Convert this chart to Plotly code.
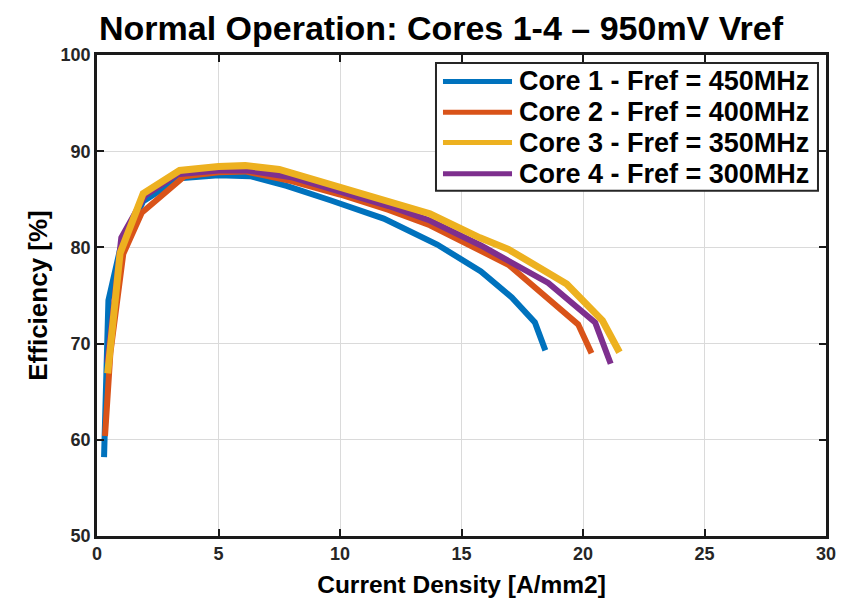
import plotly.graph_objects as go

# Measured efficiency vs current density for each core (950 mV Vref)
core1_j = [0.29, 0.47, 0.95, 1.9, 3.4, 5.0, 6.3, 7.8, 9.6, 11.8, 14.0, 15.8, 17.07, 18.02, 18.45]
core1_eff = [58.2, 74.5, 79.8, 84.8, 87.2, 87.5, 87.4, 86.4, 84.9, 83.0, 80.3, 77.5, 74.8, 72.2, 69.3]

core2_j = [0.33, 0.55, 1.08, 1.84, 3.6, 5.0, 6.1, 8.0, 10.0, 12.0, 13.7, 15.8, 16.93, 19.8, 20.35]
core2_eff = [60.4, 69.0, 79.3, 83.6, 87.4, 87.8, 87.9, 86.9, 85.5, 83.9, 82.3, 79.6, 78.2, 72.0, 69.0]

core3_j = [0.44, 0.95, 1.9, 3.4, 5.0, 6.1, 7.5, 10.0, 12.0, 13.7, 15.76, 16.93, 19.33, 20.8, 21.5]
core3_eff = [66.9, 79.4, 85.6, 88.0, 88.4, 88.5, 88.1, 86.3, 84.8, 83.5, 81.0, 79.8, 76.2, 72.4, 69.1]

core4_j = [0.43, 1.0, 1.98, 3.3, 5.0, 6.2, 8.0, 10.0, 12.0, 13.7, 15.8, 18.57, 20.5, 21.14]
core4_eff = [68.0, 81.0, 85.4, 87.6, 88.0, 88.0, 87.3, 85.8, 84.3, 82.8, 80.2, 76.3, 72.2, 67.9]

series_names = [
    "Core 1 - Fref = 450MHz",
    "Core 2 - Fref = 400MHz",
    "Core 3 - Fref = 350MHz",
    "Core 4 - Fref = 300MHz",
]
series_colors = ["#0072BD", "#D95319", "#EDB120", "#7E2F8E"]

x_ticks = [0, 5, 10, 15, 20, 25, 30]
y_ticks = [50, 60, 70, 80, 90, 100]

FONT = "Liberation Sans, Arial, sans-serif"
TICK_COLOR = "#262626"

data = [
    (core1_j, core1_eff),
    (core2_j, core2_eff),
    (core3_j, core3_eff),
    (core4_j, core4_eff),
]

fig = go.Figure()
# draw order: purple beneath yellow
draw_order = [0, 1, 3, 2]
for i in draw_order:
    xs, ys = data[i]
    fig.add_trace(go.Scatter(
        x=xs, y=ys, mode="lines", name=series_names[i],
        line=dict(color=series_colors[i], width=6 if i != 2 else 7),
        showlegend=False,
    ))

axis_common = dict(
    showgrid=True, gridcolor="#dadada", gridwidth=1,
    showline=True, linecolor="#1a1a1a", linewidth=2.5, mirror="ticks",
    ticks="inside", ticklen=7, tickwidth=2, tickcolor="#1a1a1a",
    zeroline=False,
    tickfont=dict(family=FONT, size=18, color=TICK_COLOR, weight="bold"),
)

fig.update_xaxes(
    range=[0, 30], tickvals=x_ticks, ticktext=[str(v) for v in x_ticks],
    title=dict(text="<b>Current Density [A/mm2]</b>", standoff=13,
               font=dict(family=FONT, size=24.5, color="#000000")),
    **axis_common,
)
fig.update_yaxes(
    range=[50, 100], tickvals=y_ticks, ticktext=[str(v) for v in y_ticks],
    title=dict(text="<b>Efficiency [%]</b>", standoff=6,
               font=dict(family=FONT, size=26, color="#000000")),
    **axis_common,
)

# Legend box with long line samples
box_x0, box_x1 = 0.465, 0.989
box_y0, box_y1 = 0.718, 0.9835
fig.add_shape(type="rect", xref="paper", yref="paper",
              x0=box_x0, x1=box_x1, y0=box_y0, y1=box_y1,
              line=dict(color="#262626", width=2), fillcolor="white", layer="above")
row_y = [0.945, 0.881, 0.818, 0.753]
for i in range(4):
    fig.add_shape(type="line", xref="paper", yref="paper",
                  x0=0.4746, x1=0.5693, y0=row_y[i], y1=row_y[i],
                  line=dict(color=series_colors[i], width=5), layer="above")
    fig.add_annotation(xref="paper", yref="paper", x=0.5755, y=row_y[i],
                       xanchor="left", yanchor="middle", showarrow=False,
                       text="<b>" + series_names[i] + "</b>",
                       font=dict(family=FONT, size=27, color="#000000"))

fig.update_layout(
    width=853, height=606,
    margin=dict(l=97, r=27, t=55, b=65),
    paper_bgcolor="white", plot_bgcolor="white",
    title=dict(text="<b>Normal Operation: Cores 1-4 \u2013 950mV Vref</b>",
               x=0.517, xanchor="center", y=0.953, yanchor="middle",
               font=dict(family=FONT, size=34, color="#000000")),
    showlegend=False,
)

fig.write_html("out.html")
